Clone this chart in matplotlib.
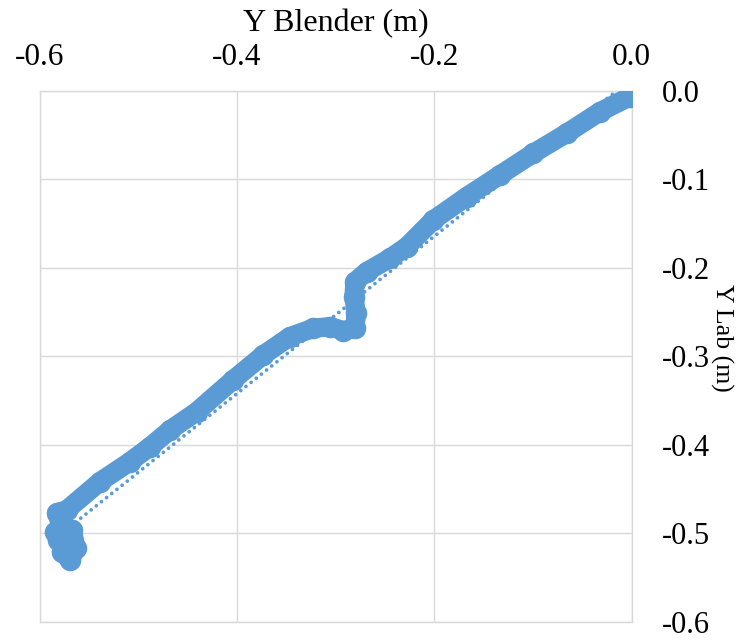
import numpy as np
import matplotlib
matplotlib.use('Agg')
import matplotlib.pyplot as plt

# Y Blender (m) vs Y Lab (m)
y_blender = [-0.5772, -0.5691, -0.5630, -0.5671, -0.5732, -0.5843, -0.5812, -0.5792,
             -0.5825, -0.5724, -0.5387, -0.5083, -0.4880, -0.4677, -0.4407, -0.4039,
             -0.3732, -0.3461, -0.3225, -0.3056, -0.2921, -0.2802, -0.2792, -0.2812,
             -0.2802, -0.2684, -0.2448, -0.2278, -0.2009, -0.1670, -0.1333, -0.0995,
             -0.0657, -0.0319, -0.0015]
y_lab = [-0.5209, -0.5299, -0.5164, -0.4960, -0.5130, -0.4983, -0.5073, -0.4870,
         -0.4768, -0.4734, -0.4415, -0.4189, -0.4020, -0.3831, -0.3624, -0.3266,
         -0.2983, -0.2776, -0.2681, -0.2663, -0.2708, -0.2681, -0.2512, -0.2324,
         -0.2155, -0.2042, -0.1890, -0.1759, -0.1458, -0.1194, -0.0949, -0.0704,
         -0.0478, -0.0234, -0.0064]
# linear trendline (slope, intercept) as shown in the picture
trend_coef = [0.889, 0.0135]
ticks = [-0.6, -0.5, -0.4, -0.3, -0.2, -0.1, 0.0]
xticks = [-0.6, -0.4, -0.2, 0.0]

blue = '#5B9BD5'
grid_c = '#D9D9D9'

plt.rcParams['font.family'] = ['Liberation Serif', 'DejaVu Serif']

fig = plt.figure(figsize=(7.44, 6.43), dpi=100)
ax = fig.add_axes([0.0531, 0.0327, 0.7957, 0.8258])

x = np.array(y_blender)
y = np.array(y_lab)
ax.plot(x, y, color=blue, lw=14, marker='o', ms=14.5, mec=blue, mfc=blue,
        solid_capstyle='round', solid_joinstyle='round', zorder=3)

# trendline over the data's x range
xt = np.array([x.min(), x.max()])
ax.plot(xt, np.polyval(trend_coef, xt), color=blue, lw=2.7,
        linestyle=(0, (0.01, 1.75)), dash_capstyle='round', zorder=2)

ax.set_xlim(-0.6, 0.0)
ax.set_ylim(-0.6, 0.0)
ax.set_xticks(xticks)
ax.set_yticks(ticks)
ax.set_xticklabels([f'{v:.1f}' for v in xticks])
ax.set_yticklabels([f'{v:.1f}' for v in ticks])
ax.grid(True, color=grid_c, lw=1.0)
ax.set_axisbelow(True)
for s in ax.spines.values():
    s.set_color(grid_c)
    s.set_linewidth(1.0)

ax.xaxis.tick_top()
ax.yaxis.tick_right()
ax.tick_params(axis='x', length=0, pad=13.5, labelsize=22.5)
ax.tick_params(axis='y', length=0, pad=22, labelsize=22)

ax.set_xlabel('Y Blender (m)', fontsize=23, va='baseline')
ax.xaxis.set_label_position('top')
ax.xaxis.set_label_coords(0.5, 1.112)
ax.set_ylabel('Y Lab (m)', fontsize=18.5, rotation=-90, va='center', ha='center')
ax.yaxis.set_label_position('right')
ax.yaxis.set_label_coords(1.172, 0.535)

fig.savefig('out.png', dpi=100)
